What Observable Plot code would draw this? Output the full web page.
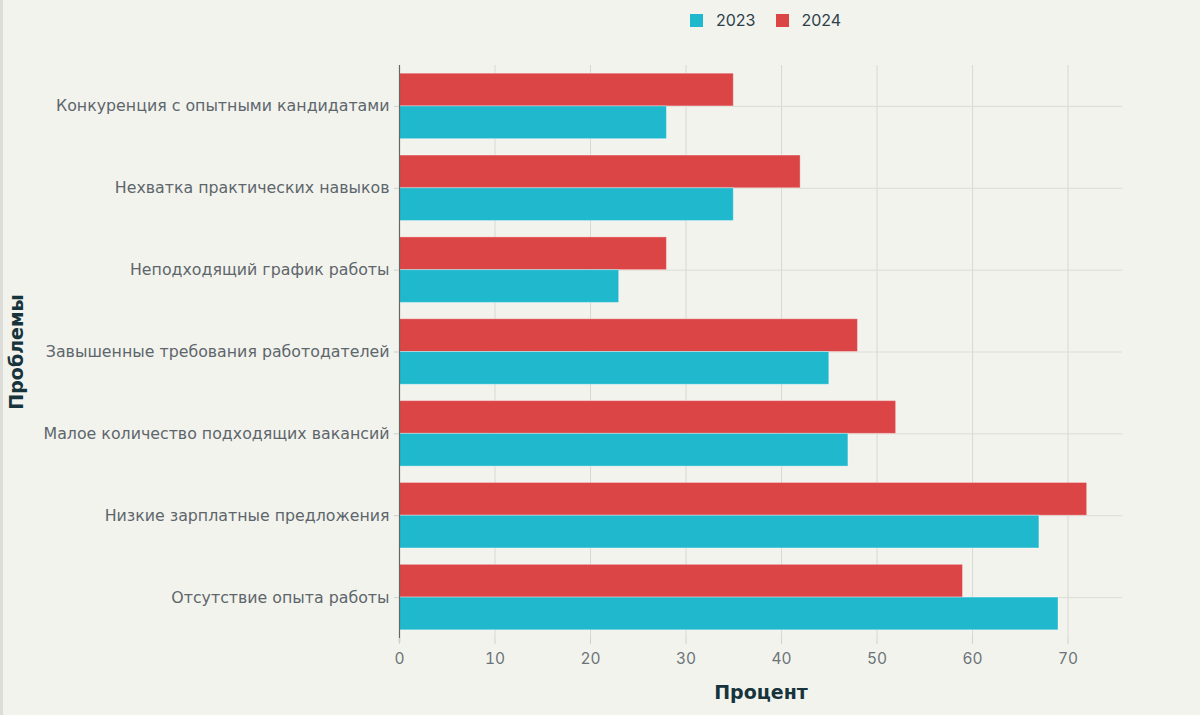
<!DOCTYPE html>
<html>
<head>
<meta charset="utf-8">
<script src="https://cdn.jsdelivr.net/npm/d3@7"></script>
<script src="https://cdn.jsdelivr.net/npm/@observablehq/plot@0.6"></script>
<style>
  html, body { margin: 0; padding: 0; background: #f3f3ee; }
  body { width: 1200px; height: 715px; position: relative; overflow: hidden; }
  #edge { position: absolute; left: 0; top: 0; width: 3px; height: 715px; background: #dcdcd8; }
  #legend { position: absolute; left: 690px; top: 0; height: 40px; display: flex; align-items: center;
            font-family: Inter, "DejaVu Sans", sans-serif; font-size: 16px; color: #2b4049; }
  #legend .item { display: flex; align-items: center; margin-right: 20px; }
  #legend .sw { width: 13px; height: 13px; margin-right: 13px; }
  #chart { position: absolute; left: 0; top: 40px; }
</style>
</head>
<body>
<div id="edge"></div>
<div id="legend"></div>
<div id="chart"></div>
<script>
const categories = [
  "Конкуренция с опытными кандидатами",
  "Нехватка практических навыков",
  "Неподходящий график работы",
  "Завышенные требования работодателей",
  "Малое количество подходящих вакансий",
  "Низкие зарплатные предложения",
  "Отсутствие опыта работы"
];
const values2023 = [28, 35, 23, 45, 47, 67, 69];
const values2024 = [35, 42, 28, 48, 52, 72, 59];
const years = ["2023", "2024"];
const colors = ["#1fb8cd", "#db4545"];
const xTicks = [0, 10, 20, 30, 40, 50, 60, 70];
const xTitle = "Процент";
const yTitle = "Проблемы";

const rows2023 = categories.map((c, i) => ({category: c, value: values2023[i], year: years[0]}));
const rows2024 = categories.map((c, i) => ({category: c, value: values2024[i], year: years[1]}));

const W = 1200, H = 675;
const mTop = 25, mBottom = 77, mLeft = 399, mRight = 78;
const innerH = H - mTop - mBottom;
const padIn = 0.2, padOut = 0.1;
const step = innerH / (categories.length - padIn + 2 * padOut);
const half = step * (1 - padIn) / 2;

// legend
const legend = document.getElementById("legend");
years.forEach((y, i) => {
  const it = document.createElement("div");
  it.className = "item";
  it.innerHTML = `<span class="sw" style="background:${colors[i]}"></span><span>${y}</span>`;
  legend.appendChild(it);
});

const chart = Plot.plot({
  width: W,
  height: H,
  marginTop: mTop,
  marginBottom: mBottom,
  marginLeft: mLeft,
  marginRight: mRight,
  style: {background: "transparent", fontFamily: "'DejaVu Sans', sans-serif"},
  x: {domain: [0, 75.7]},
  y: {domain: categories, paddingInner: padIn, paddingOuter: padOut, round: false},
  color: {domain: years, range: colors},
  marks: [
    Plot.gridX(xTicks.filter(d => d > 0), {stroke: "#d8d8d3", strokeOpacity: 1, strokeWidth: 1}),
    Plot.gridY(categories, {stroke: "#dcdcd7", strokeOpacity: 1, strokeWidth: 1}),
    Plot.barX(rows2024, {x: "value", y: "category", fill: "year", insetBottom: half,
      stroke: "#ffffff", strokeOpacity: 0.35, strokeWidth: 1}),
    Plot.barX(rows2023, {x: "value", y: "category", fill: "year", insetTop: half,
      stroke: "#ffffff", strokeOpacity: 0.35, strokeWidth: 1}),
    Plot.ruleX([0], {stroke: "#666", strokeWidth: 1.2, insetBottom: -4}),
    Plot.axisX({ticks: xTicks, tickSize: 6, tickPadding: 8, stroke: "#d0d0cc", label: null,
      fill: "#6b7378", fontSize: 15.5, fontFamily: "Inter, sans-serif"}),
    Plot.axisY({tickSize: 5, tickPadding: 5, stroke: "#cfcfca", label: null,
      fill: "#5d666b", fontSize: 15.8, fontFamily: "'DejaVu Sans', sans-serif"}),
    Plot.text([xTitle], {frameAnchor: "bottom", dy: 60, fontSize: 19, fontWeight: "bold",
      fill: "#17343c", fontFamily: "'DejaVu Sans', sans-serif"}),
    Plot.text([yTitle], {frameAnchor: "left", textAnchor: "middle", dx: -383, rotate: -90, fontSize: 19, fontWeight: "bold",
      fill: "#17343c", fontFamily: "'DejaVu Sans', sans-serif"})
  ]
});
document.getElementById("chart").appendChild(chart);
</script>
</body>
</html>
